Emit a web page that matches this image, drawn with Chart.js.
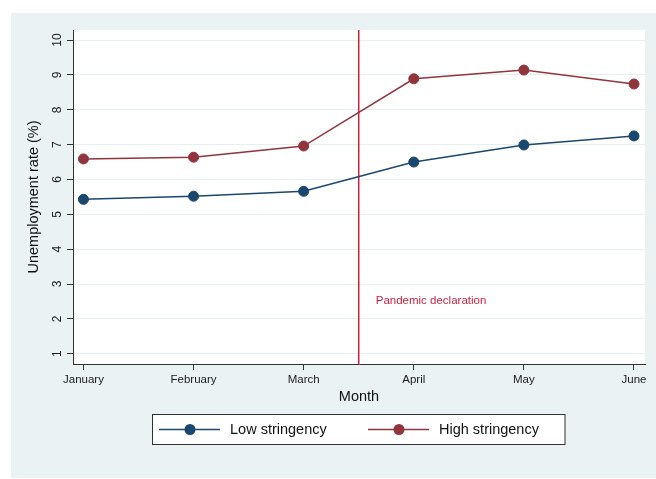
<!DOCTYPE html>
<html>
<head>
<meta charset="utf-8">
<script src="https://cdn.jsdelivr.net/npm/chart.js@4"></script>
<style>
    body { margin: 0; background: #fff; }
    canvas { display: block; }
</style>
</head>
<body>
<canvas id="chart" width="656" height="479"></canvas>
<script>
const months = ['January', 'February', 'March', 'April', 'May', 'June'];
const lowStringency = [5.43, 5.52, 5.66, 6.50, 6.99, 7.25];
const highStringency = [6.59, 6.64, 6.96, 8.89, 9.14, 8.74];
const yTicks = [1, 2, 3, 4, 5, 6, 7, 8, 9, 10];
const pandemicAt = 2.5;      // between March and April
const pandemicLabelY = 2.52;
const pandemicText = 'Pandemic declaration';

const FONT = '"Liberation Sans", Arial, Helvetica, sans-serif';
const NAVY = '#1a476f';
const MAROON = '#90353b';
const RED = '#cc1f3d';
const AXIS = '#333333';

// background panel + white plot region
const panelPlugin = {
    id: 'panel',
    beforeDraw(chart) {
        const {ctx, chartArea} = chart;
        ctx.save();
        ctx.fillStyle = '#eaf2f3';
        ctx.fillRect(11, 13, chart.width - 11, chart.height - 14);
        ctx.fillStyle = '#ffffff';
        ctx.fillRect(chartArea.left, chartArea.top, chartArea.right - chartArea.left, chartArea.bottom - chartArea.top);
        ctx.restore();
    }
};

// y tick labels rotated like stata, pandemic line, legend box
const extrasPlugin = {
    id: 'extras',
    beforeDatasetsDraw(chart) {
        const {ctx, chartArea, scales} = chart;
        const x = scales.x.getPixelForValue(pandemicAt);
        ctx.save();
        ctx.strokeStyle = RED;
        ctx.lineWidth = 1.5;
        ctx.beginPath();
        ctx.moveTo(x, chartArea.top);
        ctx.lineTo(x, chartArea.bottom);
        ctx.stroke();
        ctx.fillStyle = RED;
        ctx.font = '11.5px ' + FONT;
        ctx.textBaseline = 'middle';
        ctx.fillText(pandemicText, x + 17, scales.y.getPixelForValue(pandemicLabelY));
        ctx.restore();
    },
    afterDraw(chart) {
        const {ctx, scales} = chart;
        ctx.save();
        ctx.fillStyle = '#1a1a1a';
        ctx.font = '12px ' + FONT;
        ctx.textAlign = 'center';
        ctx.textBaseline = 'middle';
        scales.y.ticks.forEach(t => {
            const y = scales.y.getPixelForValue(t.value);
            ctx.save();
            ctx.translate(58, y);
            ctx.rotate(-Math.PI / 2);
            ctx.fillText(String(t.value), 0, 0);
            ctx.restore();
        });

        // legend
        ctx.fillStyle = '#fff';
        ctx.fillRect(152.5, 414.5, 412.5, 30);
        ctx.strokeStyle = AXIS;
        ctx.lineWidth = 1;
        ctx.strokeRect(152.5, 414.5, 412.5, 30);
        const starts = [159, 368];
        const ly = 429.5;
        chart.data.datasets.forEach((ds, i) => {
            const x0 = starts[i];
            ctx.strokeStyle = ds.borderColor;
            ctx.lineWidth = 1.5;
            ctx.beginPath();
            ctx.moveTo(x0, ly);
            ctx.lineTo(x0 + 61, ly);
            ctx.stroke();
            ctx.fillStyle = ds.borderColor;
            ctx.beginPath();
            ctx.arc(x0 + 31, ly, 5.5, 0, Math.PI * 2);
            ctx.fill();
            ctx.fillStyle = '#111';
            ctx.font = '14.5px ' + FONT;
            ctx.textAlign = 'left';
            ctx.fillText(ds.label, x0 + 71, ly);
        });
        ctx.restore();
    }
};

const ctx = document.getElementById('chart');

new Chart(ctx, {
    type: 'line',
    data: {
        datasets: [{
            label: 'Low stringency',
            data: lowStringency.map((v, i) => ({x: i, y: v})),
            borderColor: NAVY,
            backgroundColor: NAVY,
            pointBackgroundColor: NAVY,
            pointBorderColor: NAVY,
            pointRadius: 5,
            pointBorderWidth: 1,
            borderWidth: 1.5,
            tension: 0
        }, {
            label: 'High stringency',
            data: highStringency.map((v, i) => ({x: i, y: v})),
            borderColor: MAROON,
            backgroundColor: MAROON,
            pointBackgroundColor: MAROON,
            pointBorderColor: MAROON,
            pointRadius: 5,
            pointBorderWidth: 1,
            borderWidth: 1.5,
            tension: 0
        }]
    },
    options: {
        responsive: false,
        animation: false,
        layout: {
            padding: {left: 0, top: 30, right: 11, bottom: 73}
        },
        scales: {
            x: {
                type: 'linear',
                min: -0.095,
                max: 5.1,
                afterBuildTicks: s => { s.ticks = months.map((m, i) => ({value: i})); },
                afterFit: s => { s.height = 42; },
                border: {color: AXIS, width: 1},
                grid: {drawOnChartArea: false, tickLength: 6, tickColor: AXIS},
                ticks: {
                    color: '#1a1a1a',
                    font: {family: FONT, size: 11.5},
                    padding: 3,
                    maxRotation: 0,
                    callback: v => months[v]
                },
                title: {
                    display: true,
                    text: 'Month',
                    color: '#111',
                    font: {family: FONT, size: 14.5},
                    padding: {top: 0, bottom: 0}
                }
            },
            y: {
                min: 0.705,
                max: 10.29,
                afterBuildTicks: s => { s.ticks = yTicks.map(v => ({value: v})); },
                afterFit: s => { s.width = 73; },
                border: {color: AXIS, width: 1},
                grid: {color: '#e6eff1', lineWidth: 1, tickLength: 6, tickColor: AXIS},
                ticks: {display: false},
                title: {
                    display: true,
                    text: 'Unemployment rate (%)',
                    color: '#111',
                    font: {family: FONT, size: 14.5},
                    padding: {top: 25, bottom: 0}
                }
            }
        },
        plugins: {
            legend: {display: false},
            tooltip: {enabled: false}
        }
    },
    plugins: [panelPlugin, extrasPlugin]
});
</script>
</body>
</html>
